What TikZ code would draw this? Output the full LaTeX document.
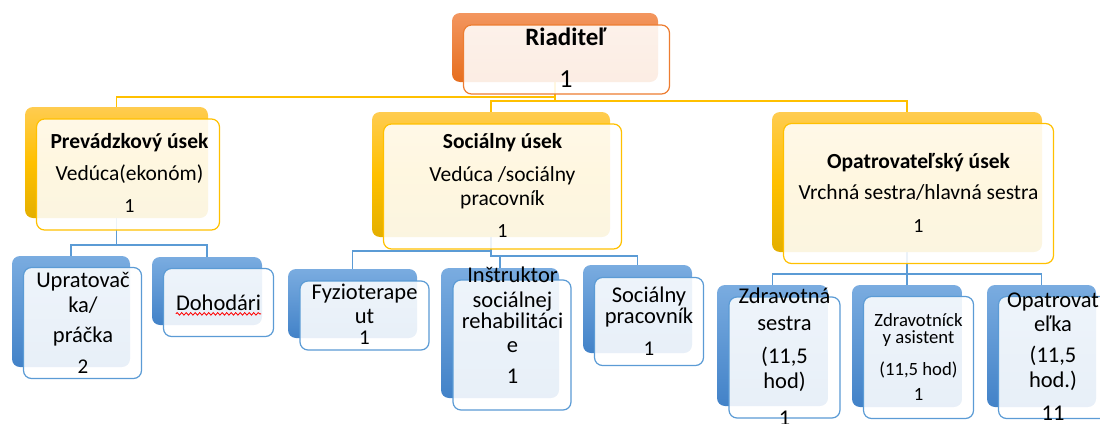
\documentclass[tikz,border=0pt]{standalone}
\usepackage{fontspec}
\setmainfont{Carlito}
\usetikzlibrary{backgrounds,decorations.pathmorphing}
\definecolor{lineO}{RGB}{237,125,49}
\definecolor{lineY}{RGB}{255,192,0}
\definecolor{lineB}{RGB}{91,155,213}
\newcommand{\fA}{\fontsize{25}{26}\selectfont\lineskiplimit-30pt\relax}
\newcommand{\fB}{\fontsize{21.5}{23}\selectfont\lineskiplimit-30pt\relax}
\newcommand{\fC}{\fontsize{22.5}{24}\selectfont\lineskiplimit-30pt\relax}
\newcommand{\fD}{\fontsize{18.7}{18}\selectfont\lineskiplimit-30pt\relax}
\newcommand{\dB}{\fontsize{20}{23}\selectfont}
\newcommand{\dC}{\fontsize{21}{24}\selectfont}
\tikzset{shO/.style 2 args = {rectangle, rounded corners=8pt, inner sep=0pt, outer sep=0pt, top color={rgb,255:red,243;green,150;blue,95}, bottom color={rgb,255:red,230;green,110;blue,30}, minimum width=#1, minimum height=#2},
         shY/.style 2 args = {rectangle, rounded corners=8pt, inner sep=0pt, outer sep=0pt, top color={rgb,255:red,255;green,204;blue,80}, bottom color={rgb,255:red,228;green,175;blue,0}, middle color=lineY, minimum width=#1, minimum height=#2},
         shB/.style 2 args = {rectangle, rounded corners=8pt, inner sep=0pt, outer sep=0pt, top color={rgb,255:red,122;green,172;blue,224}, bottom color={rgb,255:red,66;green,130;blue,200}, minimum width=#1, minimum height=#2},
         frO/.style 2 args = {rectangle, rounded corners=8pt, inner sep=0pt, draw=lineO, line width=1.2pt, fill=white, fill opacity=0.88, minimum width=#1, minimum height=#2},
         frY/.style 2 args = {frO={#1}{#2}, draw=lineY},
         frB/.style 2 args = {frO={#1}{#2}, draw=lineB},
         t1/.style = {font=\fA, align=center, inner sep=0pt, anchor=base},
         t2/.style = {font=\fB, align=center, inner sep=0pt, anchor=base},
         t3/.style = {font=\fC, align=center, inner sep=0pt, anchor=base},
         t4/.style = {font=\fD, align=center, inner sep=0pt, anchor=base},
         conY/.style = {draw=lineY, line width=1.3pt},
         conB/.style = {draw=lineB, line width=1.3pt}}
\begin{document}
\begin{tikzpicture}[x=1pt,y=-1pt]
    \clip (0,0) rectangle (1100,423);

    \node[shO={206}{69}](dirS)at(555,47.5){};
    \node[frO={206}{69}](dir)at([shift={(11.5,12)}]dirS.center){};
    \node[t1](dirT)at(566,87){\textbf{Riaditeľ}\\[16pt]{\fontsize{26}{26}\selectfont 1}};

    \node[shY={183}{111}](prvS)at(116.5,162.5){};
    \node[frY={183}{111}](prv)at([shift={(11.5,12)}]prvS.center){};
    \node[t2](prvT)at(129.5,212){\textbf{Prevádzkový úsek}\\[9pt]Vedúca(ekonóm)\\[9pt]{\dB 1}};

    \node[shY={238}{125}](socS)at(491,174.5){};
    \node[frY={238}{125}](soc)at([shift={(11.5,12)}]socS.center){};
    \node[t2](socT)at(502.5,237){\textbf{Sociálny úsek}\\[10pt]Vedúca /sociálny\\[1pt]pracovník\\[9pt]{\dB 1}};

    \node[shY={270}{140}](opaS)at(907,182){};
    \node[frY={270}{140}](opa)at([shift={(11.5,11.5)}]opaS.center){};
    \node[t2](opaT)at(918.5,232){\textbf{Opatrovateľský úsek}\\[8pt]Vrchná sestra/hlavná sestra\\[10pt]{\dB 1}};

    \node[shB={118}{111}](uprS)at(71,311.5){};
    \node[frB={118}{111}](upr)at([shift={(11.5,11.5)}]uprS.center){};
    \node[t3](uprT)at(83,373){Upratovač\\[1pt]ka/\\[6pt]práčka\\[7pt]{\dC 2}};

    \node[shB={110}{68}](dohS)at(207,291){};
    \node[frB={110}{68}](doh)at([shift={(11.5,11.5)}]dohS.center){};
    \node[t3](dohT)at(218.5,310){Dohodári};
    \draw[red, line width=0.8pt, decorate, decoration={snake, amplitude=1.3pt, segment length=4.5pt}]([yshift=-3.5pt]dohT.south west)--([yshift=-3.5pt]dohT.south east);

    \node[shB={129}{69}](fyzS)at(352.5,303.5){};
    \node[frB={129}{69}](fyz)at([shift={(12,12)}]fyzS.center){};
    \node[t3](fyzT)at(364.5,344){Fyzioterape\\ut\\[-3pt]{\dC 1}};

    \node[shB={118}{130}](insS)at(500,333){};
    \node[frB={118}{130}](ins)at([shift={(12,12)}]insS.center){};
    \node[t3](insT)at(512.5,383){Inštruktor\\[1pt]sociálnej\\[-3pt]rehabilitáci\\e\\[7pt]1};

    \node[shB={109}{88}](spcS)at(637.5,309){};
    \node[frB={109}{88}](spc)at([shift={(11.5,12.5)}]spcS.center){};
    \node[t3](spcT)at(649,355){Sociálny\\[-3pt]pracovník\\[8pt]{\dC 1}};

    \node[shB={111}{121}](zdrS)at(772.5,345.5){};
    \node[frB={111}{121}](zdr)at([shift={(12,12)}]zdrS.center){};
    \node[t3](zdrT)at(784.5,425){Zdravotná\\[3pt]sestra\\[9pt](11,5\\[1pt]hod)\\[13pt]1};

    \node[shB={110}{122}](asiS)at(907,346){};
    \node[frB={110}{122}](asi)at([shift={(11.5,11.5)}]asiS.center){};
    \node[t4](asiT)at(918.5,400){Zdravotníck\\[-1pt]y asistent\\[14pt](11,5 hod)\\[7pt]1};

    \node[shB={109}{122}](optS)at(1041.5,346){};
    \node[frB={109}{122}](opt)at([shift={(11.5,11.5)}]optS.center){};
    \node[t3](optT)at(1053,420){Opatrovat\\eľka\\[7pt](11,5\\[1pt]hod.)\\[9pt]11};

    \begin{scope}[on background layer]
        \draw[conY](dirS.south)--++(0,15)-|(prvS.north);
        \draw[conY](dirS.south)--++(0,19)-|(socS.north);
        \draw[conY](dirS.south)--++(0,19)-|(opaS.north);
        \draw[conB](prvS.south)--++(0,27)-|(uprS.north);
        \draw[conB](prvS.south)--++(0,27)-|(dohS.north);
        \draw[conB](socS.south)--++(0,14)-|(fyzS.north);
        \draw[conB](socS.south)--++(0,19)-|(insS.north);
        \draw[conB](socS.south)--++(0,19)-|(spcS.north);
        \draw[conB](opaS.south)--++(0,22)-|(zdrS.north);
        \draw[conB](opaS.south)--++(0,22)-|(asiS.north);
        \draw[conB](opaS.south)--++(0,22)-|(optS.north);
    \end{scope}
\end{tikzpicture}
\end{document}
